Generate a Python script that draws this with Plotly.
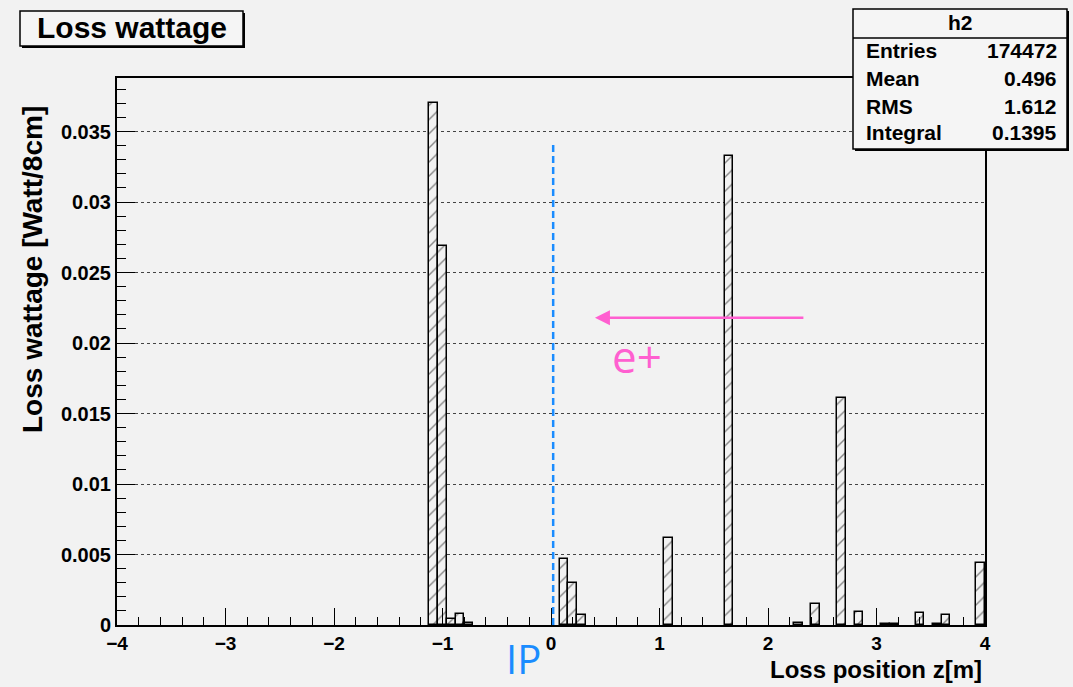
import plotly.graph_objects as go

# ---- data (bin centers of 8 cm bins, loss wattage per bin) ----
bin_centers = [-1.08, -1.00, -0.92, -0.84, -0.76, 0.12, 0.20, 0.28, 1.08, 1.64,
               2.28, 2.44, 2.68, 2.84, 3.08, 3.16, 3.40, 3.56, 3.64, 3.96]
loss_watt = [0.0370, 0.0269, 0.0004, 0.0008, 0.00012, 0.0047, 0.0030, 0.0007, 0.0062, 0.0333,
             0.00015, 0.0015, 0.0161, 0.0009, 0.0001, 0.0001, 0.00085, 0.0001, 0.0007, 0.0044]
bin_width = 0.08

stats_labels = ["Entries", "Mean", "RMS", "Integral"]
stats_values = ["174472", "0.496", "1.612", "0.1395"]
hist_name = "h2"
title_text = "Loss wattage"
x_title = "Loss position z[m]"
y_title = "Loss wattage [Watt/8cm]"

ip_z = 0.02
ip_top = 0.0341
arrow_from = (2.34, 0.0218)
arrow_to = (0.405, 0.0218)

W, H = 1073, 687
L, R, T, B = 117, 985, 78, 625
BG = "#f2f2f2"
FONT = "Liberation Sans"


def P(px):
    return (px - L) / (R - L)


def Q(py):
    return (B - py) / (B - T)


fig = go.Figure()
fig.add_trace(go.Bar(
    x=bin_centers, y=loss_watt, width=bin_width,
    marker=dict(color=BG, line=dict(color="black", width=1.5),
                pattern=dict(shape="/", fgcolor="#1a1a1a", bgcolor=BG, size=10, solidity=0.14)),
    showlegend=False, hoverinfo="x+y",
))

fig.update_xaxes(
    range=[-4, 4], dtick=1, tick0=-4, ticks="inside", ticklen=17, tickwidth=1, tickcolor="black",
    minor=dict(dtick=0.2, ticks="inside", ticklen=8, tickcolor="black", showgrid=False),
    showgrid=False, zeroline=False, showline=True, mirror=True, linecolor="black", linewidth=2,
    tickfont=dict(family=FONT, size=19, color="black", weight="bold"),
)
fig.update_yaxes(
    range=[0, 0.0388], dtick=0.005, tick0=0, ticks="inside", ticklen=18, tickwidth=1, tickcolor="black",
    minor=dict(dtick=0.001, ticks="inside", ticklen=9, tickcolor="black", showgrid=False),
    showgrid=True, gridcolor="#444444", griddash="dot", gridwidth=1,
    zeroline=False, showline=True, mirror=True, linecolor="black", linewidth=2,
    tickfont=dict(family=FONT, size=20, color="black", weight="bold"),
)

shapes = []
# IP dashed line
shapes.append(dict(type="line", xref="x", yref="y", x0=ip_z, x1=ip_z, y0=0, y1=ip_top,
                   line=dict(color="#1a8cff", width=2.5, dash="7px,4px")))
# title box (shadow + box)
shapes.append(dict(type="rect", xref="paper", yref="paper", x0=P(22), x1=P(245), y0=Q(48), y1=Q(13),
                   fillcolor="black", line=dict(width=0), layer="above"))
shapes.append(dict(type="rect", xref="paper", yref="paper", x0=P(20), x1=P(243), y0=Q(46), y1=Q(11),
                   fillcolor="#f5f5f5", line=dict(color="black", width=1.5), layer="above"))
# stats box (shadow + box)
shapes.append(dict(type="rect", xref="paper", yref="paper", x0=P(855), x1=P(1069), y0=Q(151), y1=Q(11),
                   fillcolor="black", line=dict(width=0), layer="above"))
shapes.append(dict(type="rect", xref="paper", yref="paper", x0=P(853), x1=P(1067), y0=Q(149), y1=Q(9),
                   fillcolor="#f5f5f5", line=dict(color="black", width=1.5), layer="above"))
shapes.append(dict(type="line", xref="paper", yref="paper", x0=P(853), x1=P(1067), y0=Q(38), y1=Q(38),
                   line=dict(color="black", width=1.5), layer="above"))

annotations = []
annotations.append(dict(xref="paper", yref="paper", x=P(35), y=Q(28), xanchor="left", yanchor="middle",
                        text=title_text, showarrow=False,
                        font=dict(family=FONT, size=30, color="black", weight="bold")))
annotations.append(dict(xref="paper", yref="paper", x=P(960), y=Q(23), xanchor="center", yanchor="middle",
                        text=hist_name, showarrow=False,
                        font=dict(family=FONT, size=21, color="black", weight="bold")))
row_y = [51, 79, 106, 132]
for lab, val, yy in zip(stats_labels, stats_values, row_y):
    annotations.append(dict(xref="paper", yref="paper", x=P(864), y=Q(yy), xanchor="left", yanchor="middle",
                            text=lab, showarrow=False,
                            font=dict(family=FONT, size=21, color="black", weight="bold")))
    annotations.append(dict(xref="paper", yref="paper", x=P(1059), y=Q(yy), xanchor="right", yanchor="middle",
                            text=val, showarrow=False,
                            font=dict(family=FONT, size=21, color="black", weight="bold")))
# axis titles
annotations.append(dict(xref="paper", yref="paper", x=P(984), y=Q(669), xanchor="right", yanchor="middle",
                        text=x_title, showarrow=False,
                        font=dict(family=FONT, size=24, color="black", weight="bold")))
annotations.append(dict(xref="paper", yref="paper", x=P(32), y=Q(270), xanchor="center", yanchor="middle",
                        text=y_title, showarrow=False, textangle=-90,
                        font=dict(family=FONT, size=28, color="black", weight="bold")))
# arrow and labels
annotations.append(dict(xref="x", yref="y", axref="x", ayref="y",
                        x=arrow_to[0], y=arrow_to[1], ax=arrow_from[0], ay=arrow_from[1],
                        text="", showarrow=True, arrowhead=2, arrowsize=1.2, arrowwidth=2.5,
                        arrowcolor="#ff5fd0"))
annotations.append(dict(xref="paper", yref="paper", x=P(637), y=Q(356), xanchor="center", yanchor="middle",
                        text="e+", showarrow=False,
                        font=dict(family="Open Sans", size=44, color="#ff5fd0")))
annotations.append(dict(xref="paper", yref="paper", x=P(523), y=Q(658), xanchor="center", yanchor="middle",
                        text="IP", showarrow=False,
                        font=dict(family="Open Sans", size=40, color="#1a8cff")))

fig.update_layout(
    width=W, height=H, autosize=False,
    margin=dict(l=L, r=W - R, t=T, b=H - B, pad=0),
    paper_bgcolor=BG, plot_bgcolor=BG,
    shapes=shapes, annotations=annotations,
    bargap=0, showlegend=False,
)

fig.write_html("out.html", config={"displayModeBar": False},
               post_script="document.body.style.margin='0';document.body.style.overflow='hidden';")
